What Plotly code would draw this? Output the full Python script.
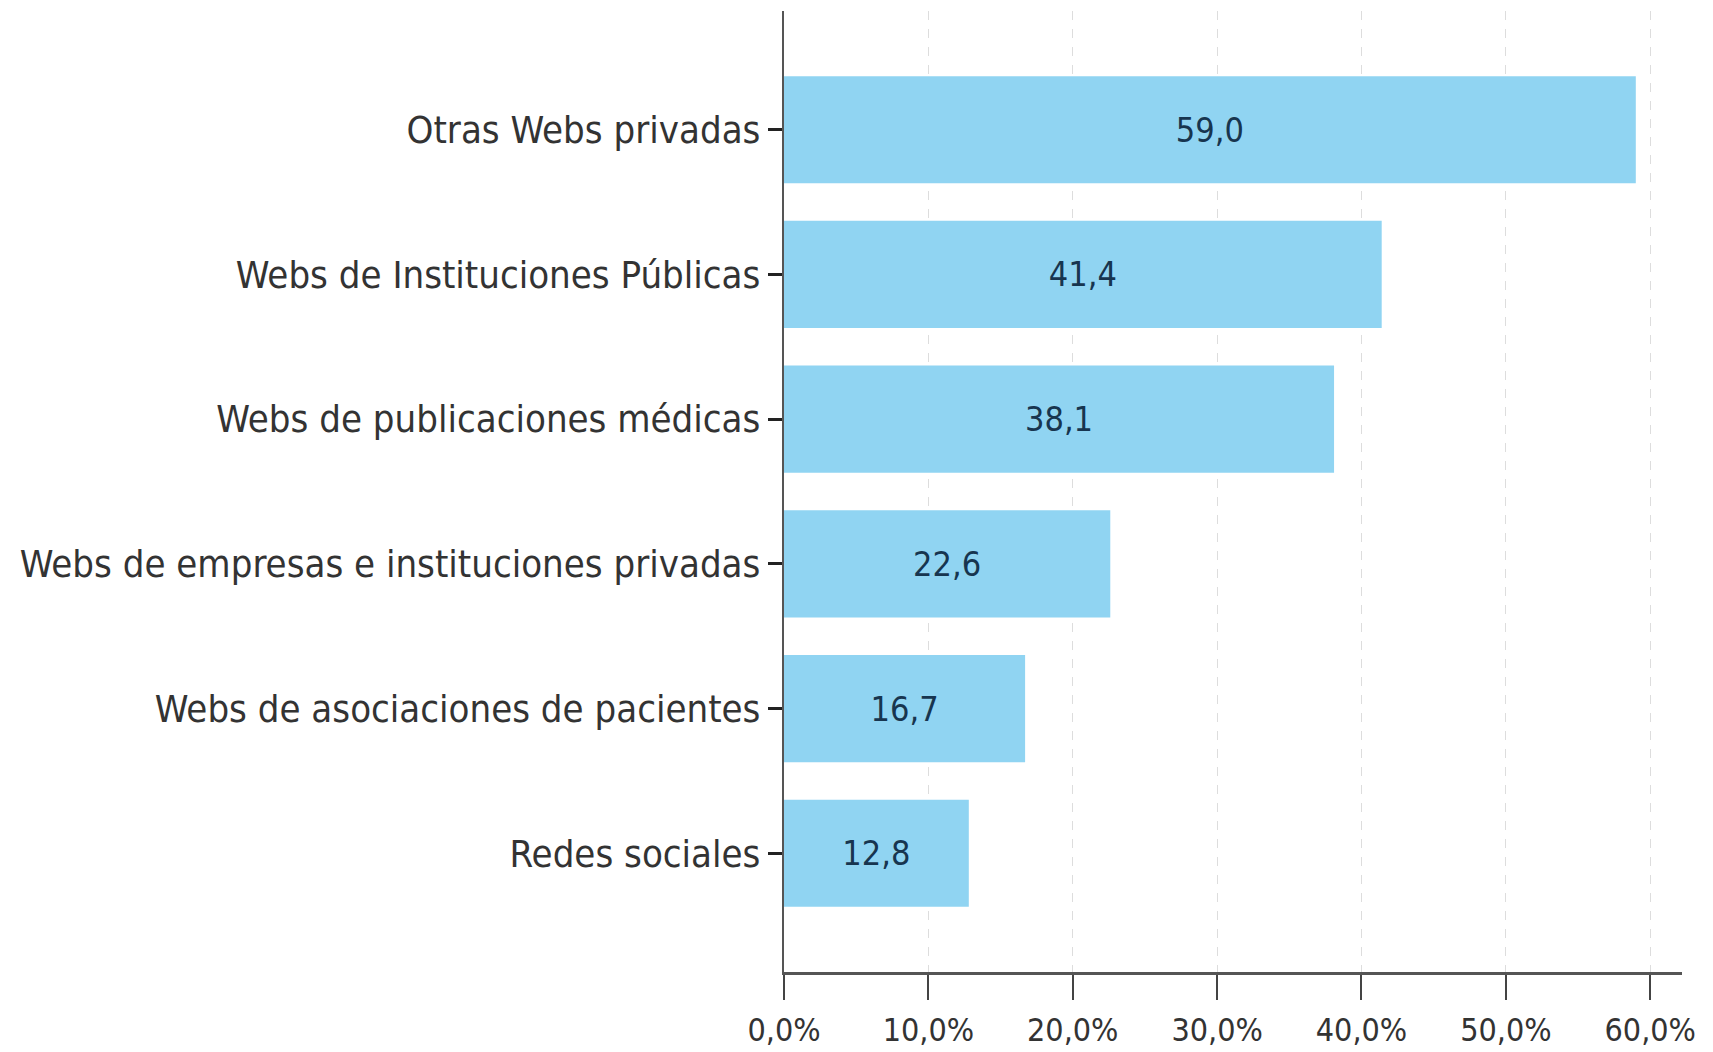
import plotly.graph_objects as go

categories = ["Redes sociales", "Webs de asociaciones de pacientes",
              "Webs de empresas e instituciones privadas", "Webs de publicaciones médicas",
              "Webs de Instituciones Públicas", "Otras Webs privadas"]
values = [12.8, 16.7, 22.6, 38.1, 41.4, 59.0]
x_ticks = [0, 10, 20, 30, 40, 50, 60]
x_tick_labels = ["0,0%", "10,0%", "20,0%", "30,0%", "40,0%", "50,0%", "60,0%"]

FONT = "DejaVu Sans Condensed, DejaVu Sans, sans-serif"

fig = go.Figure(go.Bar(
    x=values, y=categories, orientation="h",
    marker=dict(color="#90D4F2", line=dict(width=0)),
    width=0.74,
    texttemplate="%{x:.1f}", textposition="inside", insidetextanchor="middle",
    textfont=dict(family=FONT, size=34, color="#17354F"),
))

fig.update_layout(
    width=1705, height=1044,
    margin=dict(l=776, r=31, t=3, b=80),
    plot_bgcolor="white", paper_bgcolor="white",
    separators=",.",
    showlegend=False,
    font=dict(family=FONT, color="#333333"),
)
fig.update_xaxes(
    range=[0, 62.2], tickvals=x_ticks, ticktext=x_tick_labels,
    showgrid=True, gridcolor="#DDDDDD", griddash="dash", gridwidth=1,
    showline=True, linecolor="#555555", linewidth=3,
    ticks="outside", ticklen=25, tickwidth=2, tickcolor="#444444",
    tickfont=dict(family=FONT, size=32, color="#333333"),
    ticklabelstandoff=3,
    zeroline=False,
)
fig.update_yaxes(
    range=[-0.82, 5.82],
    showline=True, linecolor="#555555", linewidth=2,
    ticks="outside", ticklen=14, tickwidth=3, tickcolor="#222222",
    tickfont=dict(family=FONT, size=38, color="#333333"),
    showgrid=False, zeroline=False,
)
fig.write_html("out.html")
